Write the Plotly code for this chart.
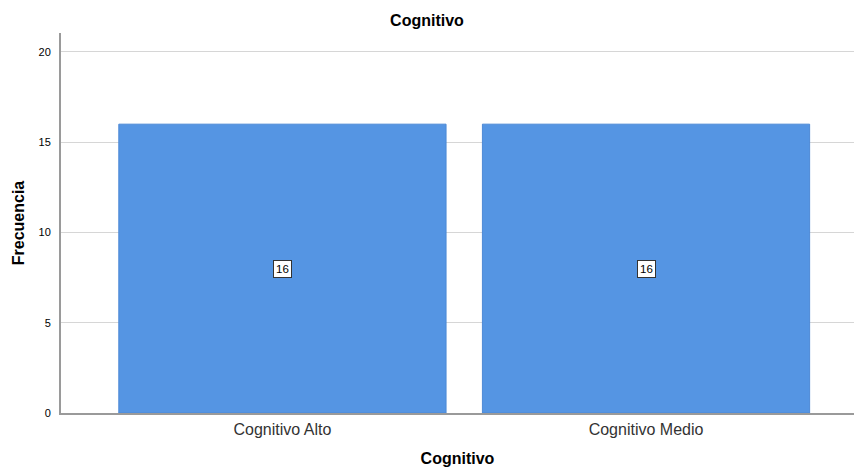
import plotly.graph_objects as go

categories = ["Cognitivo Alto", "Cognitivo Medio"]
values = [16, 16]
y_ticks = [0, 5, 10, 15, 20]

fig = go.Figure()
fig.add_trace(go.Bar(
    x=categories, y=values, width=0.9,
    marker=dict(color="#5595e3", line=dict(color="#4d89d6", width=1)),
    hoverinfo="x+y",
))

for c, v in zip(categories, values):
    fig.add_annotation(
        x=c, y=v / 2, text=str(v), showarrow=False,
        font=dict(family="Liberation Sans, Arial", size=11.5, color="black"),
        bgcolor="white", bordercolor="#333333", borderwidth=1, borderpad=2,
    )

fig.update_layout(
    width=854, height=470,
    margin=dict(l=61, r=0, t=33, b=57),
    paper_bgcolor="white", plot_bgcolor="white",
    showlegend=False,
    font=dict(family="Liberation Sans, Arial", color="black"),
    title=dict(text="<b>Cognitivo</b>", x=0.5, xanchor="center", y=1 - 20 / 470, yanchor="middle",
               font=dict(size=16, color="black")),
    bargap=0.1,
)
fig.update_xaxes(
    type="category", range=[-0.609, 1.572],
    showline=True, linecolor="#9a9a9a", linewidth=2,
    showgrid=False, ticks="", ticklabelstandoff=1,
    tickfont=dict(size=16, color="#333333"),
    title=dict(text="<b>Cognitivo</b>", font=dict(size=16, color="black"), standoff=16),
    automargin=False,
)
fig.update_yaxes(
    range=[0, 21.05], tickvals=y_ticks,
    showline=True, linecolor="#9a9a9a", linewidth=2,
    showgrid=True, gridcolor="#d6d6d6", gridwidth=1, zeroline=False,
    ticks="", ticklabelstandoff=6,
    tickfont=dict(size=11, color="black"),
    title=dict(text="<b>Frecuencia</b>", font=dict(size=16, color="black"), standoff=10),
    automargin=True,
)

fig.write_html("out.html", config={"displayModeBar": False},
               post_script="document.body.style.margin='0';")
